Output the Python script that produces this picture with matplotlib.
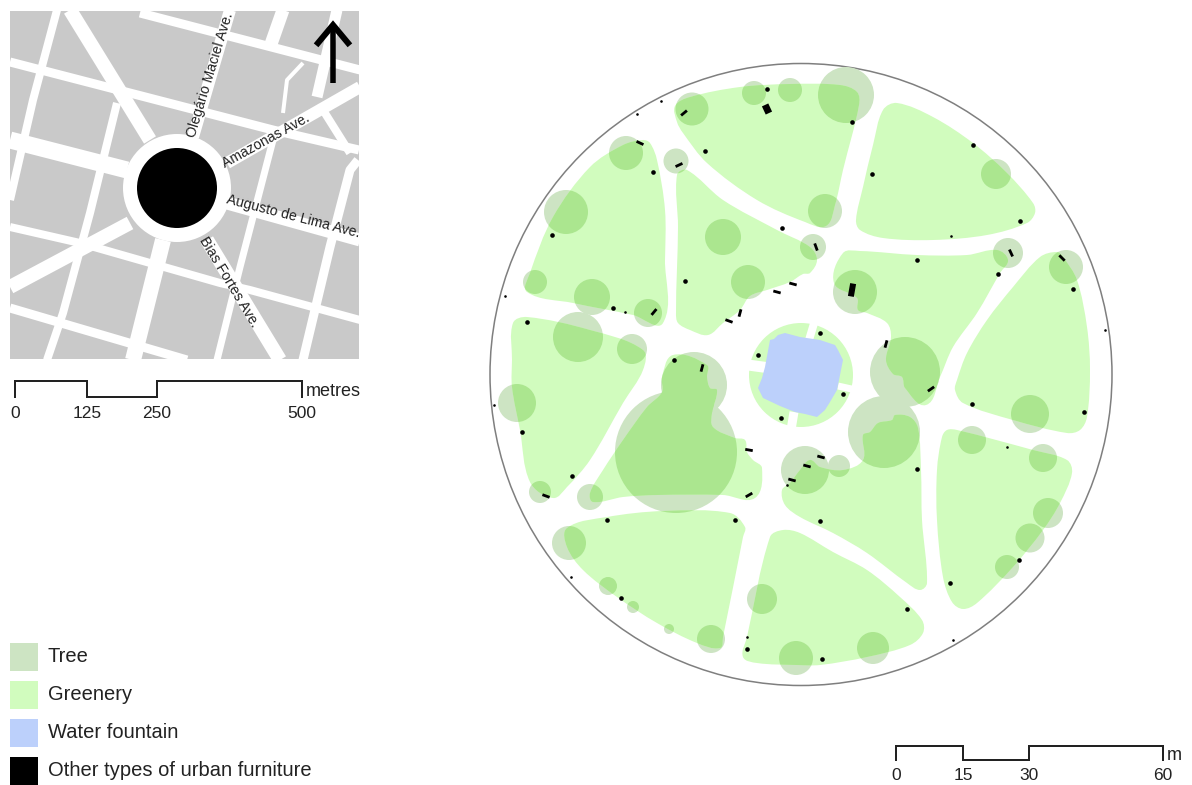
#!/usr/bin/env python3
import numpy as np
import matplotlib
matplotlib.use("Agg")
from matplotlib import pyplot
from matplotlib.path import Path
from matplotlib.patches import Circle, PathPatch, Polygon, Rectangle
from matplotlib.collections import PatchCollection

pyplot.rcParams['font.family'] = ['Liberation Sans', 'DejaVu Sans']

GREY = "#c9c9c9"
GREEN = "#d1fcbe"
TREE_LIGHT = "#cde4c3"
TREE_DARK = "#abe68f"
WATER = "#bcd0fb"

park_center = (801, 374.5)
park_radius = 311

bed_top = [(677,122),(675,106),(690,97),(740,87),(790,84),(840,85),(857,92),(859,105),(843,170),(835,205),(826,226),(805,222),(757,200),(707,163),(683,133)]
bed_top_right = [(897,103),(933,117),(973,143),(1007,173),(1033,203),(1035,213),(1027,223),(987,235),(933,240),(883,238),(860,230),(856,220),(863,187),(873,145),(883,110)]
bed_upper_left = [(650,143),(643,140),(623,145),(590,167),(553,217),(530,273),(527,292),(573,303),(633,315),(663,323),(665,260),(665,210),(657,160)]
bed_upper_mid = [(677,175),(687,170),(723,200),(777,230),(810,247),(817,260),(810,273),(803,274),(790,282),(767,290),(750,296),(740,310),(723,323),(708,335),(690,330),(678,323),(676,313),(678,227)]
bed_right_mid = [(843,253),(860,251),(917,255),(967,255),(997,250),(1008,260),(1000,273),(977,313),(953,347),(940,377),(926,405),(905,388),(902,377),(893,374),(886,360),(891,337),(887,323),(867,313),(858,310),(857,298),(834,283)]
bed_lower_mid = [(918,428),(921,470),(922,520),(927,583),(920,590),(907,583),(867,553),(833,533),(800,517),(785,505),(782,490),(790,483),(800,470),(810,460),(820,467),(843,470),(863,460),(863,435),(870,432),(878,423),(892,420),(895,415),(910,417)]
bed_right = [(1057,252),(1040,257),(1013,287),(987,320),(967,353),(957,380),(955,390),(963,403),(1013,420),(1067,433),(1080,430),(1087,417),(1090,370),(1087,327),(1077,280),(1063,257)]
bed_lower_right = [(947,430),(957,430),(1033,450),(1067,460),(1072,473),(1060,503),(1043,530),(1013,567),(977,603),(963,609),(952,602),(943,577),(937,520),(937,470),(942,437)]
bed_bottom = [(783,530),(770,537),(747,637),(743,657),(757,663),(797,665),(820,665),(867,657),(910,645),(923,633),(922,620),(900,597),(867,570),(833,552),(800,533)]
bed_bottom_left = [(567,528),(607,517),(663,511),(730,513),(745,527),(743,537),(723,637),(720,648),(697,643),(657,623),(617,597),(583,570),(567,547)]
bed_center_left = [(662,377),(673,355),(707,365),(707,377),(710,388),(717,390),(712,413),(713,427),(735,438),(745,440),(747,452),(753,460),(762,468),(755,498),(723,495),(657,495),(623,497),(593,502),(590,493),(603,470),(623,440),(647,407),(662,392)]
bed_left = [(527,317),(590,330),(643,350),(643,370),(623,403),(590,460),(567,487),(553,498),(530,482),(520,430),(512,387),(512,360),(513,323)]
beds = [bed_top, bed_top_right, bed_upper_left, bed_upper_mid, bed_right_mid, bed_lower_mid,
        bed_right, bed_lower_right, bed_bottom, bed_bottom_left, bed_center_left, bed_left]

ring_center = (801, 375)
ring_radius = 52
ring_gaps = [([(748,365),(770,368)], 11), ([(815,320),(809,340)], 8), ([(838,386),(856,390)], 7), ([(794,412),(791,430)], 9)]
fountain = [(770,340),(774,339),(778,335),(785,333),(800,337),(820,340),(835,345),(838,350),(843,360),(840,375),(837,390),(830,402),(825,410),(817,417),(805,414),(795,412),(780,406),(763,398),(758,388),(762,378),(765,367)]

tree_x = [692,754,790,626,676,566,723,748,535,592,648,578,632,694,813,846,825,996,1008,1066,855,905,884,1030,972,1043,1048,1030,1007,873,796,839,805,517,540,590,676,569,608,633,669,711,762]
tree_y = [109,93,90,153,161,212,237,282,282,297,313,337,349,385,247,95,211,174,253,267,292,372,432,414,440,458,513,538,567,648,658,466,470,403,492,497,452,543,586,607,629,639,599]
tree_r = [16.5,12,12,17,12.5,22,18,17,12,18,14,25,15,33,13,28,17,15,15,17,22,35,36,19,14,14,15,14.5,12,16,17,11,24,19,11,13,61,17,9,6,5,14,15]

post_x = [767,705,653,552,782,685,613,527,674,758,852,872,973,1020,917,998,1073,820,843,972,1084,917,820,1019,950,907,822,522,572,607,735,781,621,747]
post_y = [89,151,172,235,228,281,308,322,360,355,122,174,145,221,260,274,289,333,394,404,412,469,521,560,583,609,659,432,476,520,520,418,598,649]
small_post_x = [661,637,505,625,951,1105,1007,953,494,571,747,787]
small_post_y = [101,114,296,312,236,330,447,640,405,577,637,485]

bench_x = [684,640,679,654,702,729,740,777,793,816,1011,1062,886,931,821,807,749,749,792,546]
bench_y = [113,143,165,312,368,321,313,292,284,247,253,258,344,389,457,466,450,495,480,496]
bench_angle = [40,-25,25,50,75,-20,75,-15,-15,-70,-65,-45,75,35,-15,-15,-10,30,-15,-20]
kiosk_x = [767,852]
kiosk_y = [109,290]
kiosk_w = [7,6]
kiosk_l = [9,13]
kiosk_angle = [-65,80]

# locator map
locator_box = (10, 11, 359, 359)
locator_center = (177, 188)
roads = [
    ([(70,10),(150,140)], 14), ([(207,240),(280,360)], 14),
    ([(230,10),(193,137)], 12), ([(163,240),(133,360)], 16),
    ([(227,163),(360,87)], 12), ([(130,223),(10,287)], 14),
    ([(227,203),(360,240)], 13), ([(127,170),(10,140)], 17),
    ([(140,13),(360,70)], 9), ([(10,62),(273,130),(359,150)], 9),
    ([(10,227),(80,243),(220,283),(250,290),(360,320)], 8), ([(10,308),(187,360)], 9),
    ([(57,10),(33,100),(10,200)], 8), ([(117,103),(90,213),(63,313),(47,360)], 8),
    ([(283,10),(270,47)], 13), ([(337,10),(317,97)], 11),
    ([(273,140),(240,267),(217,360)], 7), ([(358,160),(350,170),(330,247),(303,360)], 9),
    ([(323,110),(350,153)], 8), ([(303,63),(287,80),(283,113)], 4),
]
street_names = ["Olegário Maciel Ave.", "Amazonas Ave.", "Augusto de Lima Ave.", "Bias Fortes Ave."]
street_x = [191, 223, 227, 202]
street_y = [137, 165, 199, 238]
street_angle = [73, 29, -14.5, -59]

north_shaft = [(333,83),(333,26)]
north_head = [(318,43),(333,25),(348,43)]

# scale bars
km_ticks = [0, 125, 250, 500]
km_x = [15, 87, 157, 302]
m_ticks = [0, 15, 30, 60]
m_x = [896, 963, 1029, 1163]

legend_labels = ["Tree", "Greenery", "Water fountain", "Other types of urban furniture"]
legend_colors = [TREE_LIGHT, GREEN, WATER, "black"]
legend_top = [643, 681, 719, 757]


def smooth_path(points, k=0.33):
    # closed spline through the outline points, tangents scaled by segment length
    pts = np.array(points, dtype=float)
    n = len(pts)
    tangents = []
    for i in range(n):
        t = pts[(i + 1) % n] - pts[i - 1]
        tangents.append(t / np.hypot(*t))
    verts = [pts[0]]
    codes = [Path.MOVETO]
    for i in range(n):
        p1, p2 = pts[i], pts[(i + 1) % n]
        seg = np.hypot(*(p2 - p1))
        verts += [p1 + tangents[i] * seg * k, p2 - tangents[(i + 1) % n] * seg * k, p2]
        codes += [Path.CURVE4] * 3
    return Path(verts, codes)


def px(width):
    return width * 72 / 100


def scale_bar(ax, xs, top, low, ticks, unit, unit_x, unit_y, label_y, size):
    line_x = [xs[0], xs[0], xs[1], xs[1], xs[2], xs[2], xs[3], xs[3]]
    line_y = [low, top, top, low, low, top, top, low]
    ax.plot(line_x, line_y, color="#222222", lw=px(2), solid_joinstyle="miter", zorder=5)
    for x, t in zip(xs, ticks):
        ax.text(x, label_y, str(t), ha="center", va="center", fontsize=size, color="#222222")
    ax.text(unit_x, unit_y, unit, ha="left", va="center", fontsize=size + 0.5, color="#222222")


fig = pyplot.figure(figsize=(11.92, 7.85), dpi=100)
ax = fig.add_axes([0, 0, 1, 1])
ax.set_xlim(0, 1192)
ax.set_ylim(785, 0)
ax.axis("off")

# locator map
x0, y0, x1, y1 = locator_box
box = Rectangle((x0, y0), x1 - x0, y1 - y0, fc=GREY, ec="none", zorder=1)
ax.add_patch(box)
for points, width in roads:
    xs, ys = zip(*points)
    line, = ax.plot(xs, ys, color="white", lw=px(width), solid_capstyle="butt", zorder=2)
    line.set_clip_path(box)
ax.add_patch(Circle(locator_center, 54, fc="white", ec="none", zorder=3))
ax.add_patch(Circle(locator_center, 40, fc="black", ec="none", zorder=4))
for name, x, y, angle in zip(street_names, street_x, street_y, street_angle):
    ax.text(x, y, name, rotation=angle, rotation_mode="anchor", ha="left", va="center",
            fontsize=10.2, color="#222222", zorder=5)
ax.plot(*zip(*north_shaft), color="black", lw=px(5.5), solid_capstyle="butt", zorder=6)
ax.plot(*zip(*north_head), color="black", lw=px(6), solid_joinstyle="miter", zorder=6)

scale_bar(ax, km_x, 381, 397, km_ticks, "metres", 306, 392, 413, 12.5)
scale_bar(ax, m_x, 746, 760, m_ticks, "m", 1167, 755, 775, 12.5)

# legend
for label, color, top in zip(legend_labels, legend_colors, legend_top):
    ax.add_patch(Rectangle((10, top), 28, 28, fc=color, ec="none"))
    ax.text(48, top + 14, label, va="center", ha="left", fontsize=14.5, color="#222222")

# park
ax.add_patch(Circle(park_center, park_radius, fc="white", ec="#7f7f7f", lw=1.1, zorder=1))
ax.add_collection(PatchCollection([Circle((x, y), r) for x, y, r in zip(tree_x, tree_y, tree_r)],
                                  fc=TREE_LIGHT, ec="none", zorder=2))
for bed in beds:
    patch = PathPatch(smooth_path(bed), fc=GREEN, ec="none", zorder=3)
    ax.add_patch(patch)
    inside = PatchCollection([Circle((x, y), r) for x, y, r in zip(tree_x, tree_y, tree_r)],
                             fc=TREE_DARK, ec="none", zorder=4)
    ax.add_collection(inside)
    inside.set_clip_path(patch)

ax.add_patch(Circle(ring_center, ring_radius, fc=GREEN, ec="none", zorder=4))
for gap, width in ring_gaps:
    ax.plot(*zip(*gap), color="white", lw=px(width), solid_capstyle="butt", zorder=5)
ax.add_patch(Polygon(fountain, closed=True, fc=WATER, ec="none", zorder=6))

ax.scatter(post_x, post_y, s=px(4.6) ** 2, c="black", lw=0, zorder=7)
ax.scatter(small_post_x, small_post_y, s=px(2.6) ** 2, c="black", lw=0, zorder=7)
for x, y, a in zip(bench_x, bench_y, bench_angle):
    dx = 3.8 * np.cos(np.radians(a))
    dy = -3.8 * np.sin(np.radians(a))
    ax.plot([x - dx, x + dx], [y - dy, y + dy], color="black", lw=px(2.8), solid_capstyle="butt", zorder=7)
for x, y, w, l, a in zip(kiosk_x, kiosk_y, kiosk_w, kiosk_l, kiosk_angle):
    dx = l / 2 * np.cos(np.radians(a))
    dy = -l / 2 * np.sin(np.radians(a))
    ax.plot([x - dx, x + dx], [y - dy, y + dy], color="black", lw=px(w), solid_capstyle="butt", zorder=7)

fig.savefig("out.png", dpi=100)
